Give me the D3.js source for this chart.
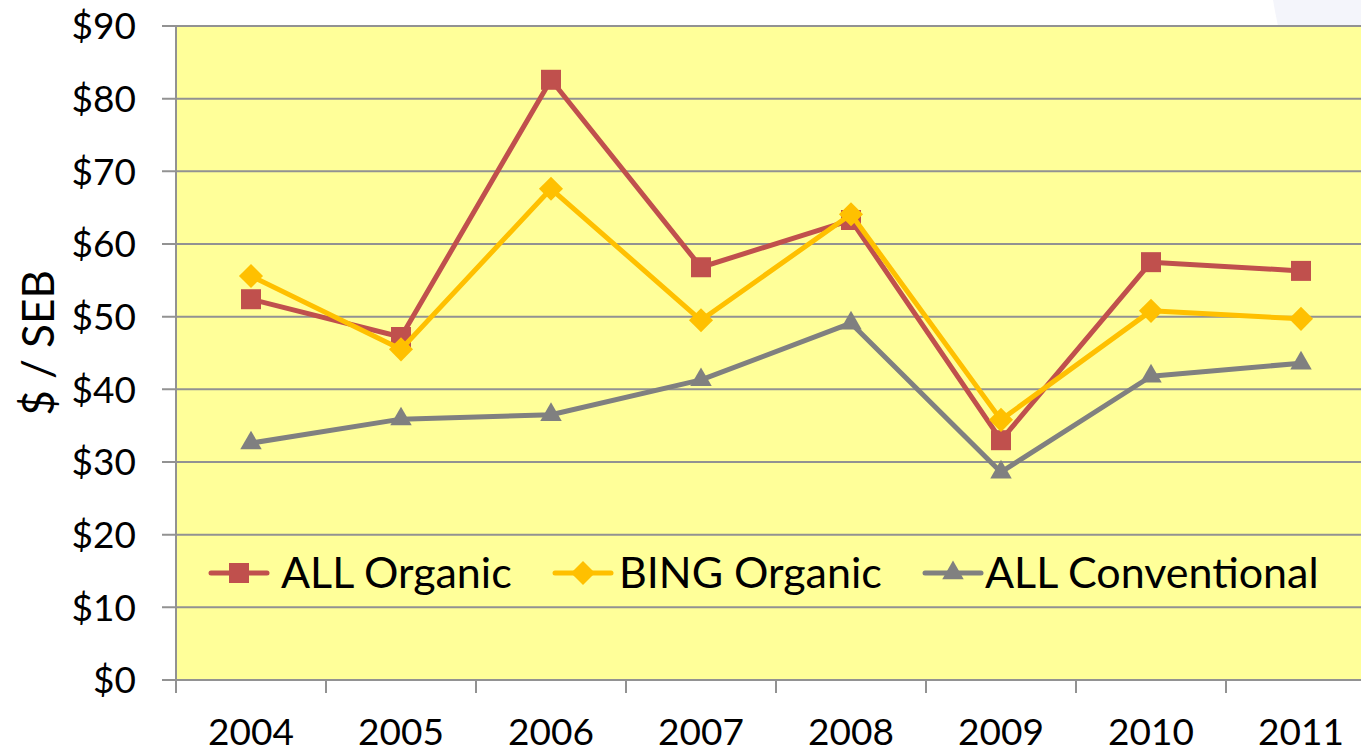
<!DOCTYPE html>
<html><head><meta charset="utf-8">
<script src="https://cdn.jsdelivr.net/npm/d3@7"></script>
<style>body{margin:0;background:#fff}svg{display:block}text{font-family:Lato,"Open Sans",sans-serif;fill:#000}</style>
</head><body>
<svg id="c" width="1361" height="752"></svg>
<script>
const years = ["2004","2005","2006","2007","2008","2009","2010","2011"];
const allOrganic = [52.4, 47.2, 82.6, 56.8, 63.3, 33.0, 57.5, 56.3];
const bingOrganic = [55.6, 45.5, 67.6, 49.5, 64.1, 35.8, 50.8, 49.7];
const allConventional = [32.6, 35.9, 36.5, 41.3, 49.1, 28.6, 41.8, 43.6];
const seriesNames = ["ALL Organic", "BING Organic", "ALL Conventional"];
const yTicks = [0,10,20,30,40,50,60,70,80,90];

const svg = d3.select("#c");
const L = 176, R = 1376, T = 26, B = 680;

// decorative slide shape top-right
svg.append("path").attr("d","M1273,0 L1361,0 L1361,26 L1278,26 Q1275,12 1273,0 Z").attr("fill","#f4f5fb");

const x = d3.scaleBand().domain(years).range([L,R]);
const y = d3.scaleLinear().domain([0,90]).range([B,T]);

svg.append("rect").attr("x",L).attr("y",T).attr("width",R-L).attr("height",B-T).attr("fill","#ffff99");

// gridlines
svg.append("g").selectAll("line").data(yTicks).join("line")
  .attr("x1",L-14).attr("x2",R).attr("y1",d=>y(d)).attr("y2",d=>y(d))
  .attr("stroke","#929292").attr("stroke-width",2);

// y axis
const yAxis = d3.axisLeft(y).tickValues(yTicks).tickFormat(d=>"$"+d).tickSize(0).tickPadding(40);
const ga = svg.append("g").attr("transform",`translate(${L},0)`).call(yAxis);
ga.select(".domain").remove();
ga.selectAll("text").style("font-size","37px").attr("dy","0.35em").style("font-family","Lato");
svg.append("line").attr("x1",L).attr("x2",L).attr("y1",T).attr("y2",B+13).attr("stroke","#929292").attr("stroke-width",2);

// x axis
const gx = svg.append("g").attr("transform",`translate(0,${B})`);
const tickPos = years.map(d=>x(d)).concat([R]);
gx.selectAll("line").data(tickPos).join("line").attr("x1",d=>d).attr("x2",d=>d).attr("y1",0).attr("y2",13)
  .attr("stroke","#929292").attr("stroke-width",2);
gx.append("line").attr("x1",L).attr("x2",R).attr("stroke","#929292").attr("stroke-width",2);
gx.selectAll("text").data(years).join("text").attr("x",d=>x(d)+x.bandwidth()/2).attr("y",65)
  .attr("text-anchor","middle").style("font-size","37px").text(d=>d);

// y title
svg.append("text").attr("transform","translate(54,343) rotate(-90)").attr("text-anchor","middle")
  .style("font-size","44px").text("$ / SEB");

const cx = d => x(d)+x.bandwidth()/2;
const line = d3.line().x((d,i)=>cx(years[i])).y(d=>y(d));
const series = [
  {name:seriesNames[0], vals:allOrganic, color:"#c0504d", sym:d3.symbolSquare, size:400, rot:0},
  {name:seriesNames[1], vals:bingOrganic, color:"#ffc000", sym:d3.symbolSquare, size:290, rot:45},
  {name:seriesNames[2], vals:allConventional, color:"#808080", sym:d3.symbolTriangle, size:200, rot:0}
];
series.forEach(s=>{
  const g = svg.append("g");
  g.append("path").datum(s.vals).attr("d",line).attr("fill","none").attr("stroke",s.color).attr("stroke-width",5).attr("stroke-linejoin","round");
  g.selectAll("path.m").data(s.vals).join("path").attr("class","m")
    .attr("transform",(d,i)=>`translate(${cx(years[i])},${y(d)}) rotate(${s.rot})`)
    .attr("d",d3.symbol().type(s.sym).size(s.size)).attr("fill",s.color);
});

// legend
const legX = [211, 555, 925];
const legTextX = [70, 64, 60];
const legY = 573;
series.forEach((s,i)=>{
  const g = svg.append("g").attr("transform",`translate(${legX[i]},${legY})`);
  g.append("line").attr("x1",0).attr("x2",56).attr("stroke",s.color).attr("stroke-width",5).attr("stroke-linecap","round");
  g.append("path").attr("transform",`translate(28,0) rotate(${s.rot})`).attr("d",d3.symbol().type(s.sym).size(s.size)).attr("fill",s.color);
  g.append("text").attr("x",legTextX[i]).attr("y",0).attr("dy","0.35em").style("font-size","43px").text(s.name);
});
</script>
</body></html>
